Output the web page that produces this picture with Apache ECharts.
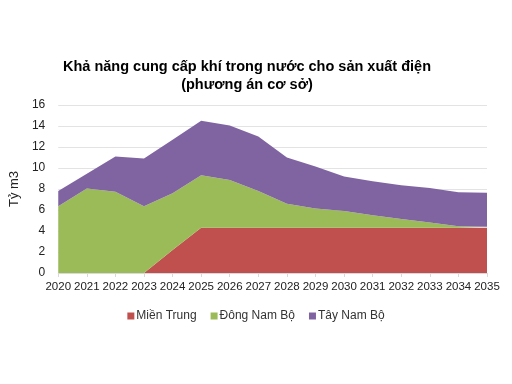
<!DOCTYPE html>
<html><head><meta charset="utf-8">
<script src="https://cdn.jsdelivr.net/npm/echarts@6/dist/echarts.min.js"></script>
<style>html,body{margin:0;padding:0;background:#fff}#c{width:512px;height:384px}</style>
</head><body><div id="c"></div>
<script>
const years = ['2020','2021','2022','2023','2024','2025','2026','2027','2028','2029','2030','2031','2032','2033','2034','2035'];
const mienTrung = [0,0,0,0,2.2,4.3,4.3,4.3,4.3,4.3,4.3,4.3,4.3,4.3,4.3,4.3];
const dongNamBo = [6.35,8.05,7.75,6.35,5.4,5.0,4.55,3.5,2.3,1.85,1.6,1.2,0.85,0.5,0.15,0.1];
const tayNamBo = [1.45,1.4,3.35,4.55,5.1,5.2,5.2,5.2,4.4,4.0,3.3,3.25,3.2,3.3,3.25,3.25];
const seriesNames = ['Miền Trung','Đông Nam Bộ','Tây Nam Bộ'];
const colors = ['#C0504D','#9BBB59','#8064A2'];
const font = 'Liberation Sans, Arial, sans-serif';
const chart = echarts.init(document.getElementById('c'));
function mk(name, data, color){
  return {name, type:'line', stack:'total', data, symbol:'none', smooth:false,
    lineStyle:{width:0}, itemStyle:{color}, areaStyle:{color, opacity:1}};
}
chart.setOption({
  animation:false,
  title:{text:'Khả năng cung cấp khí trong nước cho sản xuất điện\n(phương án cơ sở)',
    left:242, top:53, textAlign:'center',
    textStyle:{fontFamily:font, fontSize:14.5, fontWeight:'bold', color:'#000', lineHeight:18}},
  legend:{data:seriesNames, top:305, left:'center', itemWidth:7, itemHeight:7, itemGap:14,
    icon:'rect', textStyle:{fontFamily:font, fontSize:12, color:'#333', padding:[0,0,0,-3]}},
  grid:{left:53, right:25, top:105, bottom:111, containLabel:false},
  xAxis:{type:'category', data:years, boundaryGap:false,
    axisLine:{lineStyle:{color:'#d9d9d9'}}, axisTick:{show:true, lineStyle:{color:'#d9d9d9'}, length:4},
    axisLabel:{interval:0, fontFamily:font, fontSize:11.5, color:'#222', margin:8}},
  yAxis:{type:'value', min:0, max:16, interval:2, name:'Tỷ m3', nameLocation:'middle', nameGap:24,
    nameTextStyle:{fontFamily:font, fontSize:13, color:'#222'},
    axisLine:{show:false}, axisTick:{show:false},
    splitLine:{lineStyle:{color:'#e3e3e3'}},
    axisLabel:{fontFamily:font, fontSize:12, color:'#222', margin:13}},
  series:[mk(seriesNames[0], mienTrung, colors[0]), mk(seriesNames[1], dongNamBo, colors[1]), mk(seriesNames[2], tayNamBo, colors[2])]
});
</script></body></html>
